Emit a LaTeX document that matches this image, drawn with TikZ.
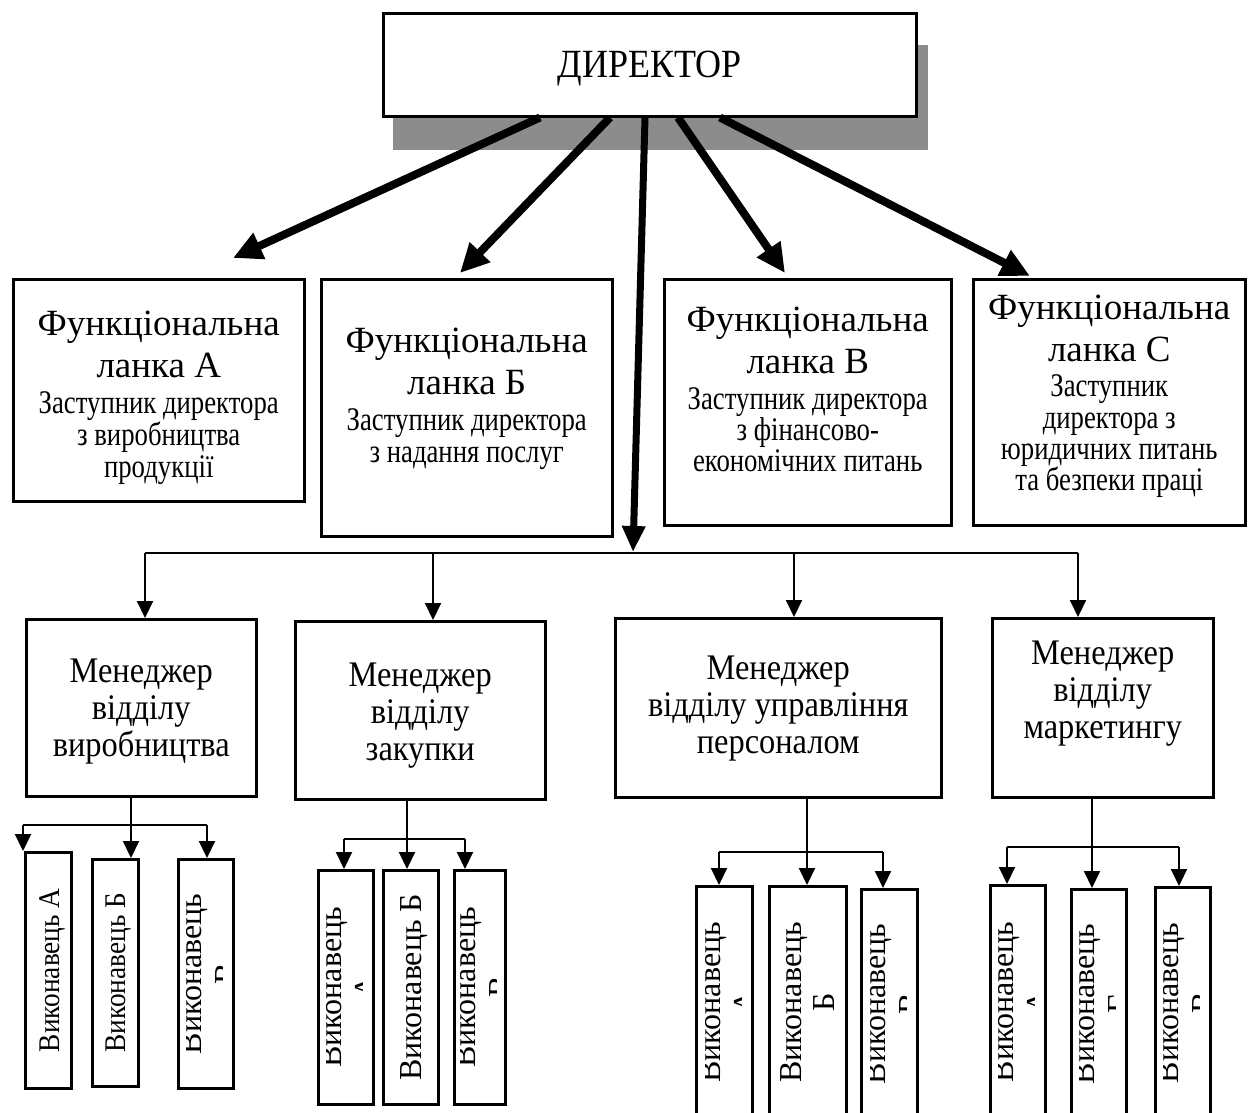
\documentclass[tikz,border=0pt]{standalone}
\usepackage{fontspec}
\setmainfont{Liberation Serif}
\newfontfamily\dirfam[FakeStretch=0.9]{Liberation Serif}
\newfontfamily\smfam[FakeStretch=0.81]{Liberation Serif}
\newfontfamily\mgfam[FakeStretch=0.9]{Liberation Serif}
\newfontfamily\exfam[FakeStretch=0.91]{Liberation Serif}
\usetikzlibrary{arrows.meta,calc}
\definecolor{shadowgray}{RGB}{140,140,140}
\newcommand{\dirf}{\dirfam\fontsize{40}{46}\selectfont}
\newcommand{\bgf}{\rmfamily\fontsize{37}{42}\selectfont}
\newcommand{\smf}{\smfam\fontsize{33}{38}\selectfont}
\newcommand{\mgf}{\mgfam\fontsize{36}{37}\selectfont}
\newcommand{\exa}{\exfam\fontsize{30}{34}\selectfont}
\newcommand{\exb}{\rmfamily\fontsize{32}{33}\selectfont}
\newcommand{\exc}{\rmfamily\fontsize{32}{35}\selectfont}
\newcommand{\clipexec}[2]{%
  \begin{scope}
    \clip ($(#1.north)+(-19,0)$) rectangle ($(#1.south)+(17,0)$);
    \node[vtxt, font=\exc, align=center] (#1t) at ($(#1.center)+(3,0)$) {Виконавець\\#2};
  \end{scope}}
\begin{document}
\begin{tikzpicture}[x=1pt,y=-1pt,
  box/.style={draw, line width=2.5pt, fill=white, inner sep=0pt, anchor=north west},
  ftxt/.style={align=center, inner sep=0pt, anchor=north, font=\bgf},
  mtxt/.style={align=center, inner sep=0pt, anchor=north, font=\mgf},
  thickarr/.style={line width=8pt, -{Triangle[length=29pt,width=27pt]}},
  vertarr/.style={line width=7pt, -{Triangle[length=26pt,width=22pt]}},
  thinline/.style={line width=2pt},
  thinarr/.style={line width=2pt, -{Triangle[length=17pt,width=16pt]}},
  vtxt/.style={rotate=90, inner sep=0pt}
]
\useasboundingbox (0,0) rectangle (1253,1112);
\clip (0,0) rectangle (1253,1112);
\fill[white] (0,0) rectangle (1253,1112);

% director with shadow
\node[fill=shadowgray, inner sep=0pt, anchor=north west, minimum width=535pt, minimum height=105pt] (dirshadow) at (393,45) {};
\node[box, minimum width=533pt, minimum height=103pt] (dir) at (382,12) {};
\node[font=\dirf, inner sep=0pt, anchor=base] (dirtxt) at ($(dir.center)+(0,13)$) {ДИРЕКТОР};

% functional units
\node[box, minimum width=291pt, minimum height=222pt] (fa) at (12,278) {};
\node[box, minimum width=291pt, minimum height=257pt] (fb) at (320,278) {};
\node[box, minimum width=287pt, minimum height=246pt] (fc) at (663,278) {};
\node[box, minimum width=272pt, minimum height=246pt] (fd) at (972,278) {};

\node[ftxt] (fat) at ($(fa.north)+(0,33)$) {\bgf Функціональна\\\bgf ланка А\\[-6pt]\smf Заступник директора\\[-10pt]\smf з виробництва\\[-10pt]\smf продукції};
\node[ftxt] (fbt) at ($(fb.north)+(0,50)$) {\bgf Функціональна\\\bgf ланка Б\\[-6pt]\smf Заступник директора\\[-10pt]\smf з надання послуг};
\node[ftxt] (fct) at ($(fc.north)+(0,29)$) {\bgf Функціональна\\\bgf ланка В\\[-6pt]\smf Заступник директора\\[-11pt]\smf з фінансово-\\[-11pt]\smf економічних питань};
\node[ftxt] (fdt) at ($(fd.north)+(0,17)$) {\bgf Функціональна\\\bgf ланка С\\[-7pt]\smf Заступник\\[-10pt]\smf директора з\\[-11pt]\smf юридичних питань\\[-11pt]\smf та безпеки праці};

% bus
\coordinate (bus) at (633,552);
\coordinate (busL) at (145,553);
\coordinate (b2) at (433,553);
\coordinate (b3) at (794,553);
\coordinate (busR) at (1078,553);

% thick arrows from director
\draw[thickarr] ($(dir.south west)+(158,0)$) -- ($(fa.north west)+(221,-20)$);
\draw[thickarr] ($(dir.south west)+(228,0)$) -- ($(fb.north west)+(140,-5)$);
\draw[vertarr] ($(dir.south west)+(263,0)$) -- (bus);
\draw[thickarr] ($(dir.south west)+(296,0)$) -- ($(fc.north west)+(122,-5)$);
\draw[thickarr] ($(dir.south west)+(338,0)$) -- ($(fd.north west)+(58,-2)$);

% managers
\node[box, minimum width=230pt, minimum height=177pt] (m1) at (25,618) {};
\node[box, minimum width=250pt, minimum height=178pt] (m2) at (294,620) {};
\node[box, minimum width=326pt, minimum height=179pt] (m3) at (614,617) {};
\node[box, minimum width=221pt, minimum height=179pt] (m4) at (991,617) {};

\node[mtxt] (m1t) at ($(m1.north)+(0,41)$) {Менеджер\\відділу\\виробництва};
\node[mtxt] (m2t) at ($(m2.north)+(0,43)$) {Менеджер\\відділу\\закупки};
\node[mtxt] (m3t) at ($(m3.north)+(0,39)$) {Менеджер\\відділу управління\\персоналом};
\node[mtxt] (m4t) at ($(m4.north)+(0,24)$) {Менеджер\\відділу\\маркетингу};

\draw[thinline] (busL) -- (busR);
\draw[thinarr] (busL) -- (busL |- m1.north);
\draw[thinarr] (b2) -- (b2 |- m2.north);
\draw[thinarr] (b3) -- (b3 |- m3.north);
\draw[thinarr] (busR) -- (busR |- m4.north);

% group 1
\node[box, minimum width=46pt, minimum height=236pt] (e1a) at (24,851) {};
\node[box, minimum width=46pt, minimum height=227pt] (e1b) at (91,858) {};
\node[box, minimum width=55pt, minimum height=229pt] (e1c) at (177,858) {};
\coordinate (g1) at (131,825);
\coordinate (g1L) at (23,825);
\coordinate (g1R) at (207,825);
\draw[thinline] (g1L) -- (g1R);
\draw[thinarr] (m1.south -| g1) -- (g1 |- e1b.north);
\draw[thinarr] (g1L) -- (g1L |- e1a.north);
\draw[thinarr] (g1R) -- (g1R |- e1c.north);
\node[vtxt, font=\exa, anchor=base] (e1at) at ($(e1a.center)+(11,0)$) {Виконавець А};
\node[vtxt, font=\exa, anchor=base] (e1bt) at ($(e1b.center)+(10,0)$) {Виконавець Б};
\clipexec{e1c}{В}

% group 2
\node[box, minimum width=55pt, minimum height=234pt] (e2a) at (317,869) {};
\node[box, minimum width=55pt, minimum height=234pt] (e2b) at (382,869) {};
\node[box, minimum width=51pt, minimum height=234pt] (e2c) at (453,869) {};
\coordinate (g2) at (407,839);
\coordinate (g2L) at (344,839);
\coordinate (g2R) at (465,839);
\draw[thinline] (g2L) -- (g2R);
\draw[thinarr] (m2.south -| g2) -- (g2 |- e2b.north);
\draw[thinarr] (g2L) -- (g2L |- e2a.north);
\draw[thinarr] (g2R) -- (g2R |- e2c.north);
\clipexec{e2a}{А}
\node[vtxt, font=\exb, anchor=base] (e2bt) at ($(e2b.center)+(10.5,0)$) {Виконавець Б};
\clipexec{e2c}{В}

% group 3
\node[box, minimum width=56pt, minimum height=232pt] (e3a) at (695,885) {};
\node[box, minimum width=77pt, minimum height=232pt] (e3b) at (768,885) {};
\node[box, minimum width=56pt, minimum height=229pt] (e3c) at (860,888) {};
\coordinate (g3) at (807,852);
\coordinate (g3L) at (719,852);
\coordinate (g3R) at (883,852);
\draw[thinline] (g3L) -- (g3R);
\draw[thinarr] (m3.south -| g3) -- (g3 |- e3b.north);
\draw[thinarr] (g3L) -- (g3L |- e3a.north);
\draw[thinarr] (g3R) -- (g3R |- e3c.north);
\clipexec{e3a}{А}
\node[vtxt, font=\exb, align=center] (e3bt) at (e3b.center) {Виконавець\\Б};
\clipexec{e3c}{В}

% group 4
\node[box, minimum width=55pt, minimum height=233pt] (e4a) at (989,884) {};
\node[box, minimum width=55pt, minimum height=229pt] (e4b) at (1070,888) {};
\node[box, minimum width=55pt, minimum height=231pt] (e4c) at (1154,886) {};
\coordinate (g4) at (1092,847);
\coordinate (g4L) at (1007,847);
\coordinate (g4R) at (1179,847);
\draw[thinline] (g4L) -- (g4R);
\draw[thinarr] (m4.south -| g4) -- (g4 |- e4b.north);
\draw[thinarr] (g4L) -- (g4L |- e4a.north);
\draw[thinarr] (g4R) -- (g4R |- e4c.north);
\clipexec{e4a}{А}
\clipexec{e4b}{Г}
\clipexec{e4c}{В}
\end{tikzpicture}
\end{document}
